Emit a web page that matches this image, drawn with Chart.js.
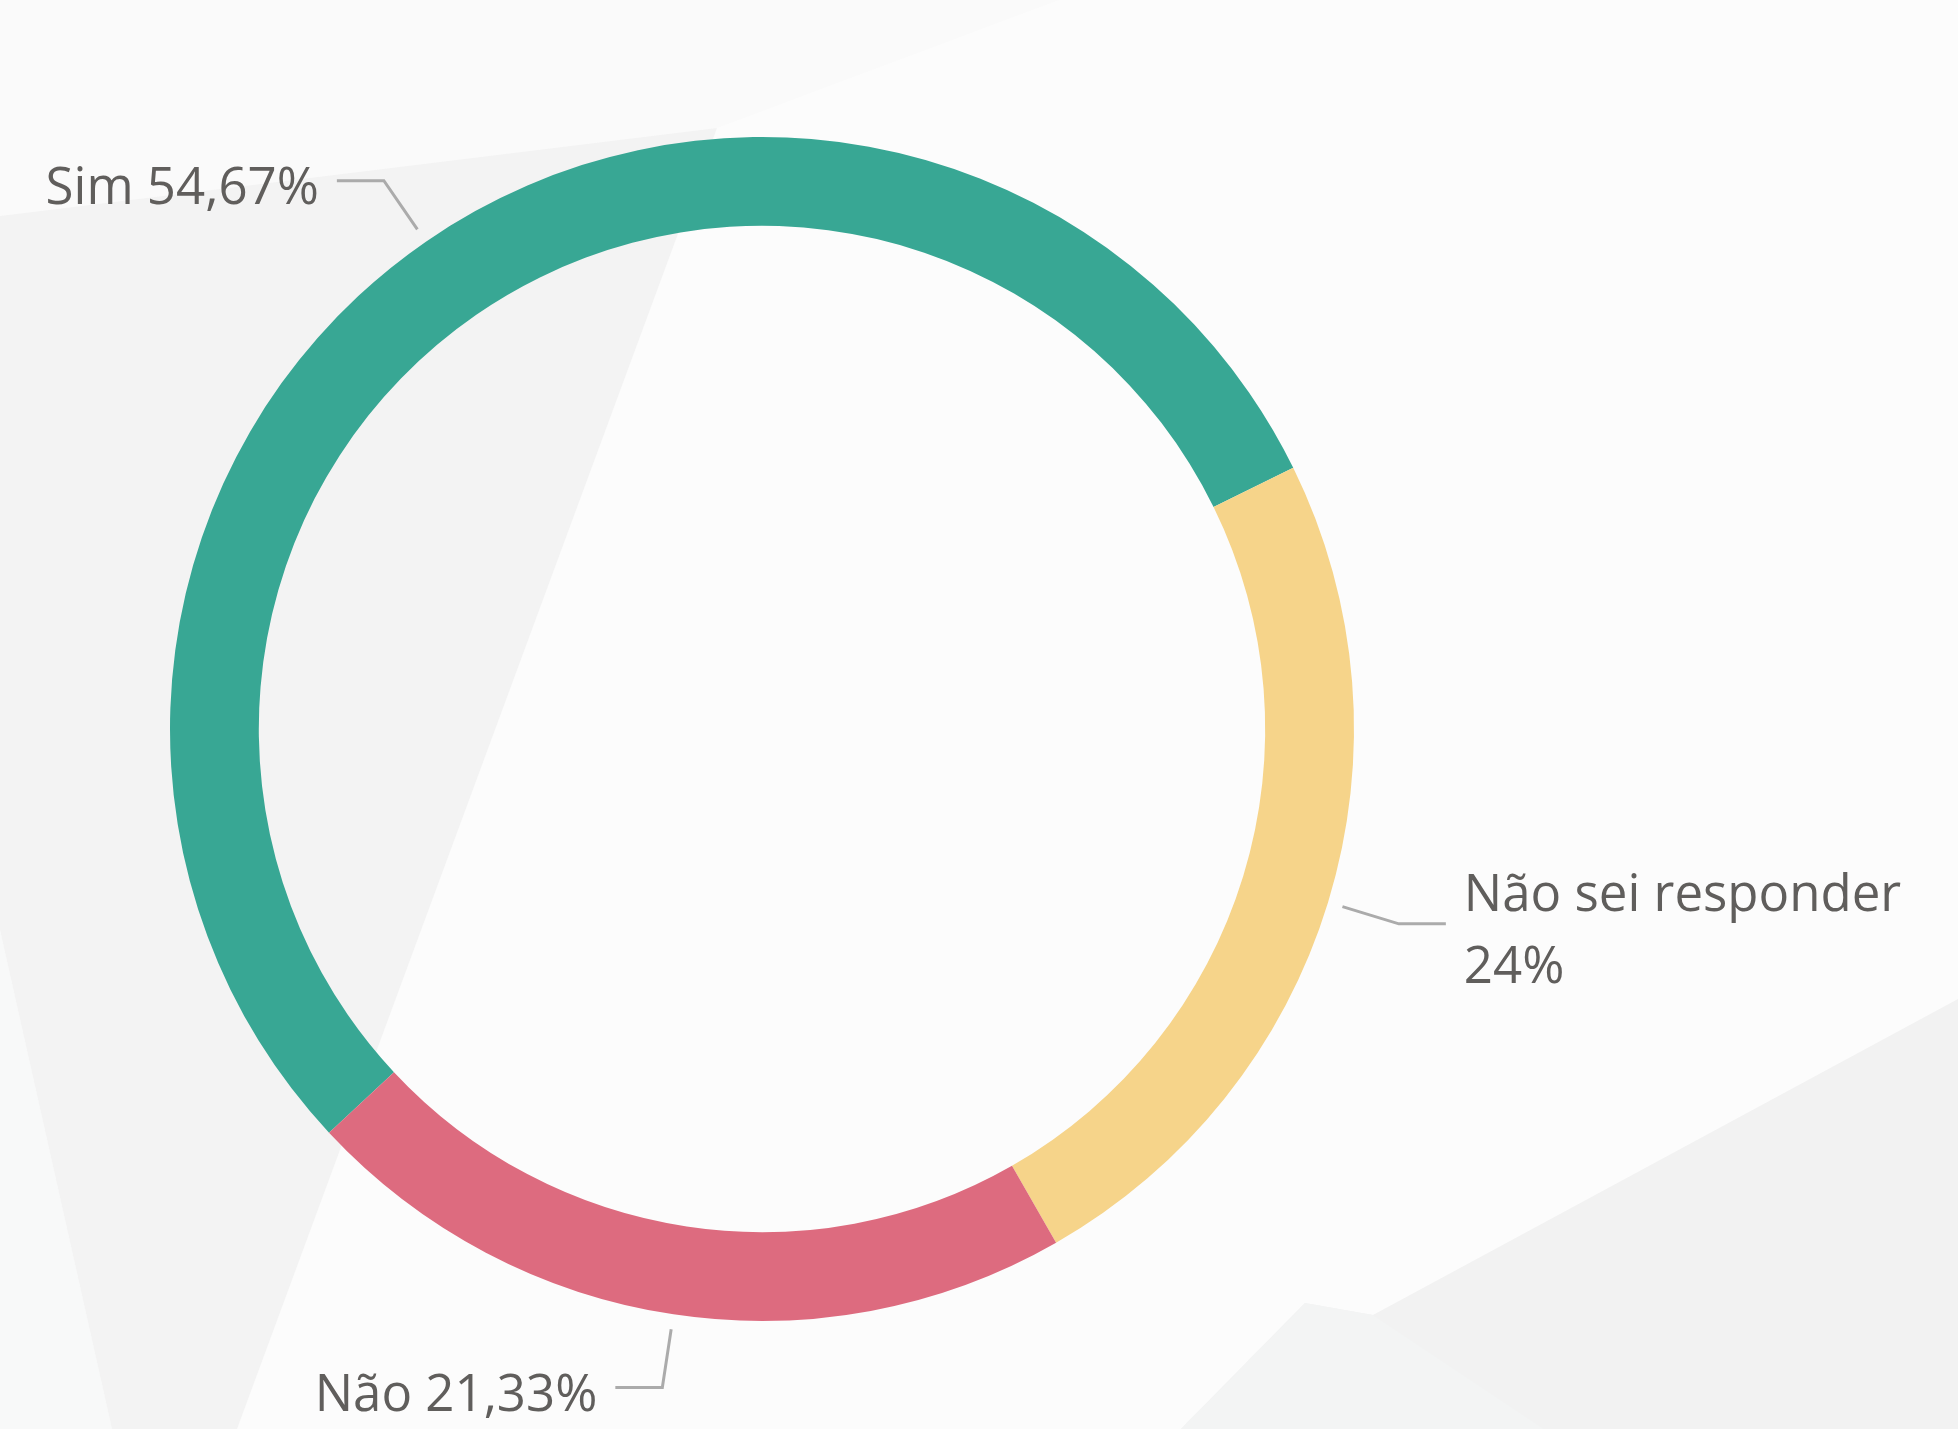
<!DOCTYPE html>
<html>
<head>
<meta charset="utf-8">
<script src="https://cdn.jsdelivr.net/npm/chart.js@4/dist/chart.umd.min.js"></script>
<style>
  html, body { margin: 0; padding: 0; background: #FCFCFC; overflow: hidden; }
  canvas { display: block; }
</style>
</head>
<body>
<canvas id="c" width="1958" height="1429"></canvas>
<script>
// ---- data ----
const categories = ['Sim', 'Não sei responder', 'Não'];
const values = [54.67, 24, 21.33];
const colors = ['#38A794', '#F6D48A', '#DD6B7F'];

function fmt(v) { return String(v).replace('.', ',') + '%'; }

// decorative background shapes
const bgPlugin = {
  id: 'bg',
  beforeDraw(chart) {
    const ctx = chart.ctx, W = chart.width, H = chart.height;
    ctx.save();
    ctx.fillStyle = '#FCFCFC';
    ctx.fillRect(0, 0, W, H);
    const poly = (pts, col) => {
      ctx.beginPath();
      ctx.moveTo(pts[0][0], pts[0][1]);
      for (let i = 1; i < pts.length; i++) ctx.lineTo(pts[i][0], pts[i][1]);
      ctx.closePath();
      ctx.fillStyle = col;
      ctx.fill();
    };
    // top-left faint region
    poly([[0, 0], [1059, 0], [717, 128], [0, 216]], '#FAFAFA');
    // bottom-left faint strip
    poly([[0, 930], [112, 1429], [0, 1429]], '#F8F9F9');
    // large left gray band
    poly([[0, 216], [717, 128], [237, 1429], [112, 1429], [0, 930]], '#F3F3F3');
    // bottom-right gray area
    poly([[1958, 999], [1373, 1315], [1305, 1303], [1181, 1429], [1958, 1429]], '#F2F2F2');
    poly([[1373, 1315], [1305, 1303], [1181, 1429], [1544, 1429]], '#F3F4F4');
    ctx.restore();
  }
};

// outside labels with leader lines
const labelPlugin = {
  id: 'outLabels',
  afterDatasetsDraw(chart) {
    const ctx = chart.ctx;
    const meta = chart.getDatasetMeta(0);
    const fontSize = 51, lineH = 71.5;
    ctx.save();
    ctx.font = fontSize + 'px "Open Sans", "Noto Sans", sans-serif';
    meta.data.forEach((arc, i) => {
      const mid = (arc.startAngle + arc.endAngle) / 2;
      const cx = arc.x, cy = arc.y, R = arc.outerRadius;
      const c = Math.cos(mid), s = Math.sin(mid);
      const p0 = [cx + (R + 15) * c, cy + (R + 15) * s];
      const p1 = [cx + (R + 74) * c, cy + (R + 74) * s];
      const right = c >= 0;
      const p2 = [p1[0] + (right ? 47 : -47), p1[1]];
      ctx.strokeStyle = '#ABABAB';
      ctx.lineWidth = 3;
      ctx.beginPath();
      ctx.moveTo(p0[0], p0[1]);
      ctx.lineTo(p1[0], p1[1]);
      ctx.lineTo(p2[0], p2[1]);
      ctx.stroke();

      const tx = p2[0] + (right ? 18 : -18);
      const maxW = right ? chart.width - tx - 10 : tx - 10;
      const words = (categories[i] + ' ' + fmt(values[i])).split(' ');
      const lines = [];
      let cur = '';
      words.forEach(w => {
        const test = cur ? cur + ' ' + w : w;
        if (cur && ctx.measureText(test).width > maxW) { lines.push(cur); cur = w; }
        else cur = test;
      });
      if (cur) lines.push(cur);
      ctx.fillStyle = '#605E5C';
      ctx.textAlign = right ? 'left' : 'right';
      ctx.textBaseline = 'alphabetic';
      const base0 = p2[1] + 23 - (lines.length - 1) * lineH / 2;
      lines.forEach((ln, k) => ctx.fillText(ln, tx, base0 + k * lineH));
    });
    ctx.restore();
  }
};

new Chart(document.getElementById('c'), {
  type: 'doughnut',
  data: {
    labels: categories,
    datasets: [{
      data: values,
      backgroundColor: colors,
      borderWidth: 0,
      hoverOffset: 0
    }]
  },
  options: {
    responsive: false,
    devicePixelRatio: 1,
    animation: false,
    rotation: -133,
    circumference: 360,
    cutout: '85%',
    layout: { padding: { left: 170, right: 604, top: 137, bottom: 108 } },
    plugins: {
      legend: { display: false },
      tooltip: { enabled: false }
    }
  },
  plugins: [bgPlugin, labelPlugin]
});
</script>
</body>
</html>
